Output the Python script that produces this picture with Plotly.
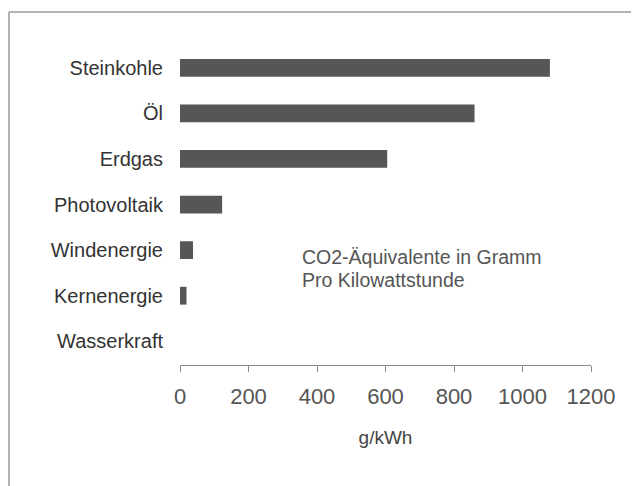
import plotly.graph_objects as go

# Daten
kategorien = ['Steinkohle', 'Öl', 'Erdgas', 'Photovoltaik', 'Windenergie', 'Kernenergie', 'Wasserkraft']
werte = [1080, 860, 605, 123, 38, 19, 0]
x_ticks = [0, 200, 400, 600, 800, 1000, 1200]

# Browser-Body hat 8px Rand -> Figur etwas kleiner, Koordinaten verschoben
OFF = 8
W, H = 639 - OFF, 486 - OFF
ML, MR, MT, MB = 180 - OFF, 48, 45 - OFF, 121

def px_x(p):
    # Pixel (Bild) -> paper x
    return (p - OFF - ML) / (W - ML - MR)

def px_y(p):
    # Pixel (Bild) -> paper y
    return 1 - (p - OFF - MT) / (H - MT - MB)

fig = go.Figure()
fig.add_trace(go.Bar(
    x=werte, y=kategorien, orientation='h',
    width=0.39,
    marker=dict(color='#565656', line=dict(width=0)),
    showlegend=False,
))

fig.update_layout(
    width=W, height=H,
    margin=dict(l=ML, r=MR, t=MT, b=MB),
    paper_bgcolor='white', plot_bgcolor='white',
    font=dict(family='Liberation Sans, Arial, sans-serif', color='#333333'),
    xaxis=dict(
        range=[0, 1200], tickvals=x_ticks, ticktext=[str(v) for v in x_ticks],
        showgrid=False, zeroline=False,
        showline=True, linecolor='#8a8a8a', linewidth=1.2,
        ticks='outside', ticklen=6, tickcolor='#8a8a8a', tickwidth=1.2,
        tickfont=dict(size=22, color='#555555'),
        ticklabelstandoff=5,
        title=dict(text='g/kWh', font=dict(size=19, color='#444444'), standoff=23),
    ),
    yaxis=dict(
        categoryorder='array', categoryarray=kategorien,
        range=[6.52, -0.5],
        showgrid=False, zeroline=False, showline=False, ticks='',
        tickfont=dict(size=20, color='#333333'),
        ticklabelstandoff=16,
    ),
)

for zeile, y_px in [('CO2-Äquivalente in Gramm', 257), ('Pro Kilowattstunde', 280)]:
    fig.add_annotation(
        xref='paper', yref='paper', x=px_x(300), y=px_y(y_px),
        xanchor='left', yanchor='middle', align='left', showarrow=False,
        text=zeile, font=dict(size=19.5, color='#555555'),
    )

# Rahmen (links und oben)
fig.add_shape(type='line', xref='paper', yref='paper',
              x0=px_x(9), y0=px_y(486), x1=px_x(9), y1=px_y(12),
              line=dict(color='#9a9a9a', width=1.5))
fig.add_shape(type='line', xref='paper', yref='paper',
              x0=px_x(9), y0=px_y(12), x1=px_x(639), y1=px_y(12),
              line=dict(color='#9a9a9a', width=1.5))

fig.write_html("out.html")
